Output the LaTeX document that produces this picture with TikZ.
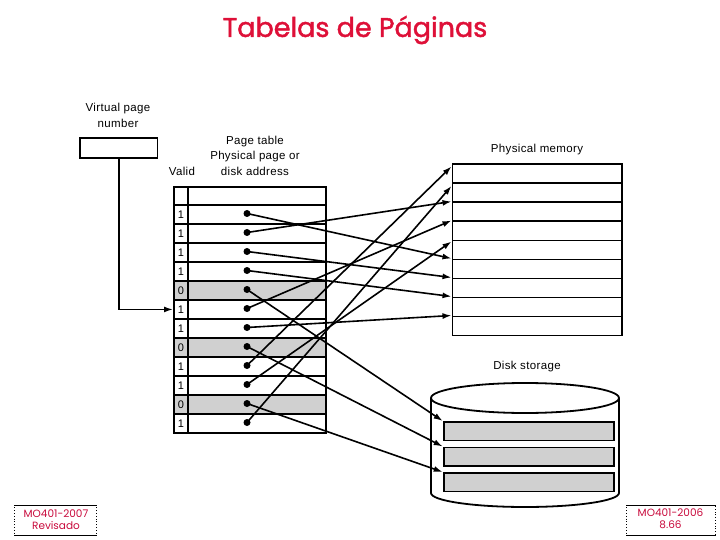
\documentclass[tikz,border=0pt]{standalone}
\usepackage{fontspec}
\setmainfont{Liberation Sans}
\newfontfamily\lblfont[LetterSpace=3]{Liberation Sans}
\newfontfamily\titlefont{Poppins}
\newfontfamily\titlefontb[FakeBold=1.6]{Poppins}
\usetikzlibrary{arrows.meta}
\definecolor{cellgray}{RGB}{208,208,208}
\definecolor{titlered}{RGB}{222,16,56}
\definecolor{footred}{RGB}{200,10,60}
\begin{document}
\begin{tikzpicture}[x=1pt,y=-1pt,
  lbl/.style={font=\lblfont\fontsize{11.5}{15.5}\selectfont, align=center, inner sep=0pt},
  cell/.style={draw, line width=1.9pt, inner sep=0pt, anchor=north west, minimum height=19pt,
     font=\lblfont\fontsize{11}{13}\selectfont},
  vcell/.style={cell, minimum width=14pt},
  acell/.style={cell, minimum width=138pt},
  memrow/.style={draw, line width=1.9pt, inner sep=0pt, anchor=north west, minimum width=169.5pt, minimum height=19pt},
  slot/.style={draw, line width=1.8pt, fill=cellgray, inner sep=0pt, anchor=north west, minimum width=170pt, minimum height=18.5pt},
  dot/.style={circle, fill, inner sep=0pt, minimum size=7pt},
  arr/.style={line width=1.6pt, -{Latex[length=9pt,width=6pt]}},
  footbox/.style={draw=black, dotted, line width=0.8pt, inner sep=0pt, anchor=north west},
  foottext/.style={font=\titlefont\fontsize{10.5}{12}\selectfont, text=footred, inner sep=0pt}
]
\useasboundingbox (0,0) rectangle (720,540);

% title
\node[font=\titlefontb\fontsize{27}{32}\selectfont, text=titlered] (title) at (355,30) {Tabelas de Páginas};

% labels
\node[lbl] (vpnlbl) at (118,115.5) {Virtual page\\number};
\node[lbl] (ptlbl) at (255,155.5) {Page table\\Physical page or\\disk address};
\node[lbl] (validlbl) at (182,171) {Valid};
\node[lbl] (pmlbl) at (537,150) {Physical memory};
\node[lbl] (dslbl) at (527,367) {Disk storage};

% virtual page number box
\node[draw, line width=1.9pt, inner sep=0pt, minimum width=77.5pt, minimum height=19.5pt, anchor=north west] (vpn) at (79,137.5) {};

% page table header
\node[vcell, minimum height=18pt] (v0) at (173,186) {};
\node[acell, minimum height=18pt] (a0) at (187,186) {};

% page table rows
\foreach \i/\b in {1/1,2/1,3/1,4/1,5/0,6/1,7/1,8/0,9/1,10/1,11/0,12/1} {
  \pgfmathsetmacro{\top}{204+19*(\i-1)}
  \ifnum\b=0
    \node[vcell, fill=cellgray] (v\i) at (173,\top) {\b};
    \node[acell, fill=cellgray] (a\i) at (187,\top) {};
  \else
    \node[vcell] (v\i) at (173,\top) {\b};
    \node[acell] (a\i) at (187,\top) {};
  \fi
  \node[dot] (d\i) at (247,\top+9.5) {};
}

% physical memory
\foreach \i in {1,...,9} {
  \node[memrow] (r\i) at (451.5,{163.5+19*(\i-1)}) {};
}

% disk
\draw[line width=1.8pt, fill=white] (431,398) -- (431,493)
  arc[start angle=180, end angle=360, x radius=94pt, y radius=14pt] -- (619,398);
\draw[line width=1.8pt, fill=white] (525,398) ellipse [x radius=94pt, y radius=15pt];
\node[slot] (s1) at (442.7,421) {};
\node[slot] (s2) at (442.7,446.5) {};
\node[slot] (s3) at (442.7,472) {};

% virtual page number pointer
\draw[arr] (vpn.south) |- (v6.west);

% mappings
\draw[arr] (d1.center) -- (r6.north west);
\draw[arr] (d2.center) -- (r3.north west);
\draw[arr] (d3.center) -- (r7.north west);
\draw[arr] (d4.center) -- (r8.north west);
\draw[arr] (d5.center) -- (s1.north west);
\draw[arr] (d6.center) -- (r4.north west);
\draw[arr] (d7.center) -- (r9.north west);
\draw[arr] (d8.center) -- (s2.north west);
\draw[arr] (d9.center) -- ([yshift=-3pt]r1.north west);
\draw[arr] (d10.center) -- ([yshift=-2pt]r5.north west);
\draw[arr] (d11.center) -- (s3.north west);
\draw[arr] (d12.center) -- ([yshift=-3.5pt]r2.north west);

% footers
\node[footbox, minimum width=82pt, minimum height=30pt] (fl) at (14,505) {};
\draw[line width=0.8pt] (fl.north west) -- (fl.north east) (fl.south west) -- (fl.south east);
\node[foottext] (fl1) at (56,514) {MO401-2007};
\node[foottext] (fl2) at (56,526) {Revisado};
\node[footbox, minimum width=89pt, minimum height=30pt] (fr) at (626,505) {};
\draw[line width=0.8pt] (fr.north west) -- (fr.north east) (fr.south west) -- (fr.south east);
\node[foottext] (fr1) at (670.5,513) {MO401-2006};
\node[foottext] (fr2) at (670.5,525) {8.66};
\end{tikzpicture}
\end{document}
